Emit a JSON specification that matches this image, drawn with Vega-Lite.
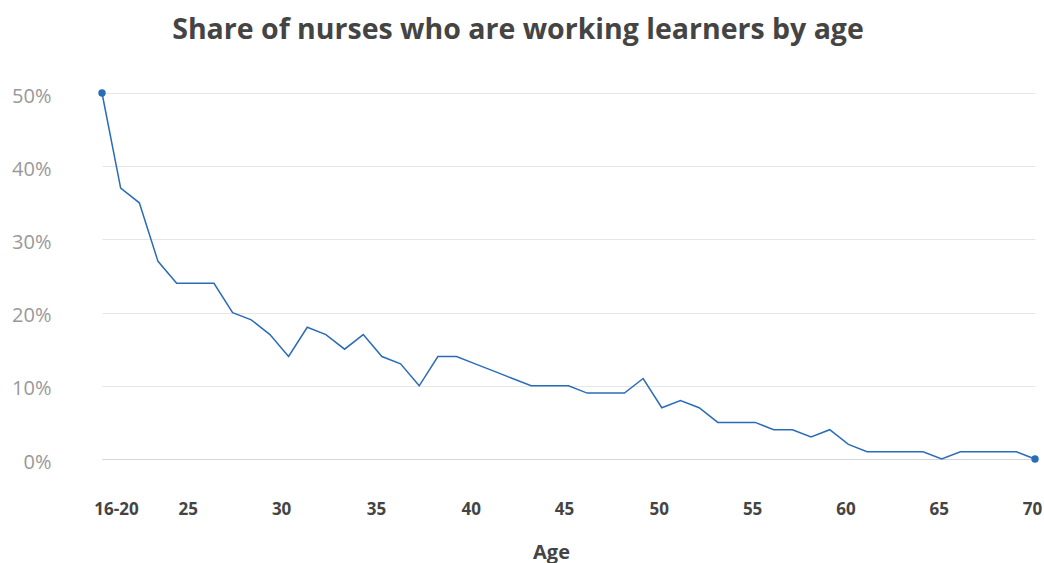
{
  "$schema": "https://vega.github.io/schema/vega-lite/v6.json",
  "width": 948,
  "height": 366,
  "autosize": "none",
  "padding": {"left": 96, "top": 93, "right": 0, "bottom": 104},
  "background": "white",
  "title": {
    "text": "Share of nurses who are working learners by age",
    "font": "Open Sans",
    "fontSize": 28.5,
    "fontWeight": "bold",
    "color": "#444444",
    "anchor": "middle",
    "frame": "group",
    "dx": -52,
    "offset": 42
  },
  "data": {
    "values": [
      {"age": "16-20", "share": 0.50},
      {"age": "21", "share": 0.37},
      {"age": "22", "share": 0.35},
      {"age": "23", "share": 0.27},
      {"age": "24", "share": 0.24},
      {"age": "25", "share": 0.24},
      {"age": "26", "share": 0.24},
      {"age": "27", "share": 0.20},
      {"age": "28", "share": 0.19},
      {"age": "29", "share": 0.17},
      {"age": "30", "share": 0.14},
      {"age": "31", "share": 0.18},
      {"age": "32", "share": 0.17},
      {"age": "33", "share": 0.15},
      {"age": "34", "share": 0.17},
      {"age": "35", "share": 0.14},
      {"age": "36", "share": 0.13},
      {"age": "37", "share": 0.10},
      {"age": "38", "share": 0.14},
      {"age": "39", "share": 0.14},
      {"age": "40", "share": 0.13},
      {"age": "41", "share": 0.12},
      {"age": "42", "share": 0.11},
      {"age": "43", "share": 0.10},
      {"age": "44", "share": 0.10},
      {"age": "45", "share": 0.10},
      {"age": "46", "share": 0.09},
      {"age": "47", "share": 0.09},
      {"age": "48", "share": 0.09},
      {"age": "49", "share": 0.11},
      {"age": "50", "share": 0.07},
      {"age": "51", "share": 0.08},
      {"age": "52", "share": 0.07},
      {"age": "53", "share": 0.05},
      {"age": "54", "share": 0.05},
      {"age": "55", "share": 0.05},
      {"age": "56", "share": 0.04},
      {"age": "57", "share": 0.04},
      {"age": "58", "share": 0.03},
      {"age": "59", "share": 0.04},
      {"age": "60", "share": 0.02},
      {"age": "61", "share": 0.01},
      {"age": "62", "share": 0.01},
      {"age": "63", "share": 0.01},
      {"age": "64", "share": 0.01},
      {"age": "65", "share": 0.00},
      {"age": "66", "share": 0.01},
      {"age": "67", "share": 0.01},
      {"age": "68", "share": 0.01},
      {"age": "69", "share": 0.01},
      {"age": "70", "share": 0.00}
    ]
  },
  "encoding": {
    "x": {
      "field": "age",
      "type": "ordinal",
      "sort": null,
      "scale": {"type": "point", "range": [6, 939], "padding": 0},
      "axis": {
        "values": ["16-20", "25", "30", "35", "40", "45", "50", "55", "60", "65", "70"],
        "labelAngle": 0,
        "labelFont": "Open Sans",
        "labelFontSize": 17,
        "labelFontWeight": "bold",
        "labelColor": "#444444",
        "labelPadding": 42,
        "labelOverlap": false,
        "labelOffset": {
          "condition": [
            {"test": "datum.value === '16-20'", "value": 14},
            {"test": "datum.value === '25' || datum.value === '30'", "value": -7.5},
            {"test": "datum.value === '35'", "value": -6},
            {"test": "datum.value === '40' || datum.value === '45'", "value": -4.5}
          ],
          "value": -3
        },
        "ticks": false,
        "domain": true,
        "domainColor": "#d6d6d6",
        "grid": false,
        "title": "Age",
        "titleFont": "Open Sans",
        "titleFontSize": 20,
        "titleFontWeight": "bold",
        "titleColor": "#444444",
        "titleX": 455,
        "titlePadding": 25
      }
    },
    "y": {
      "field": "share",
      "type": "quantitative",
      "scale": {"domain": [0, 0.5], "nice": false, "zero": false},
      "axis": {
        "values": [0, 0.1, 0.2, 0.3, 0.4, 0.5],
        "format": ".0%",
        "labelFont": "Open Sans",
        "labelFontSize": 20,
        "labelColor": "#999999",
        "labelPadding": 45,
        "labelOffset": 3,
        "ticks": false,
        "domain": false,
        "grid": true,
        "gridColor": "#e6e6e6",
        "title": null
      }
    }
  },
  "layer": [
    {"mark": {"type": "line", "color": "#2b6cb8", "strokeWidth": 1.5}},
    {
      "transform": [{"filter": "datum.age === '16-20' || datum.age === '70'"}],
      "mark": {"type": "point", "filled": true, "color": "#2b6cb8", "size": 55, "opacity": 1}
    }
  ],
  "config": {"view": {"stroke": null}}
}
